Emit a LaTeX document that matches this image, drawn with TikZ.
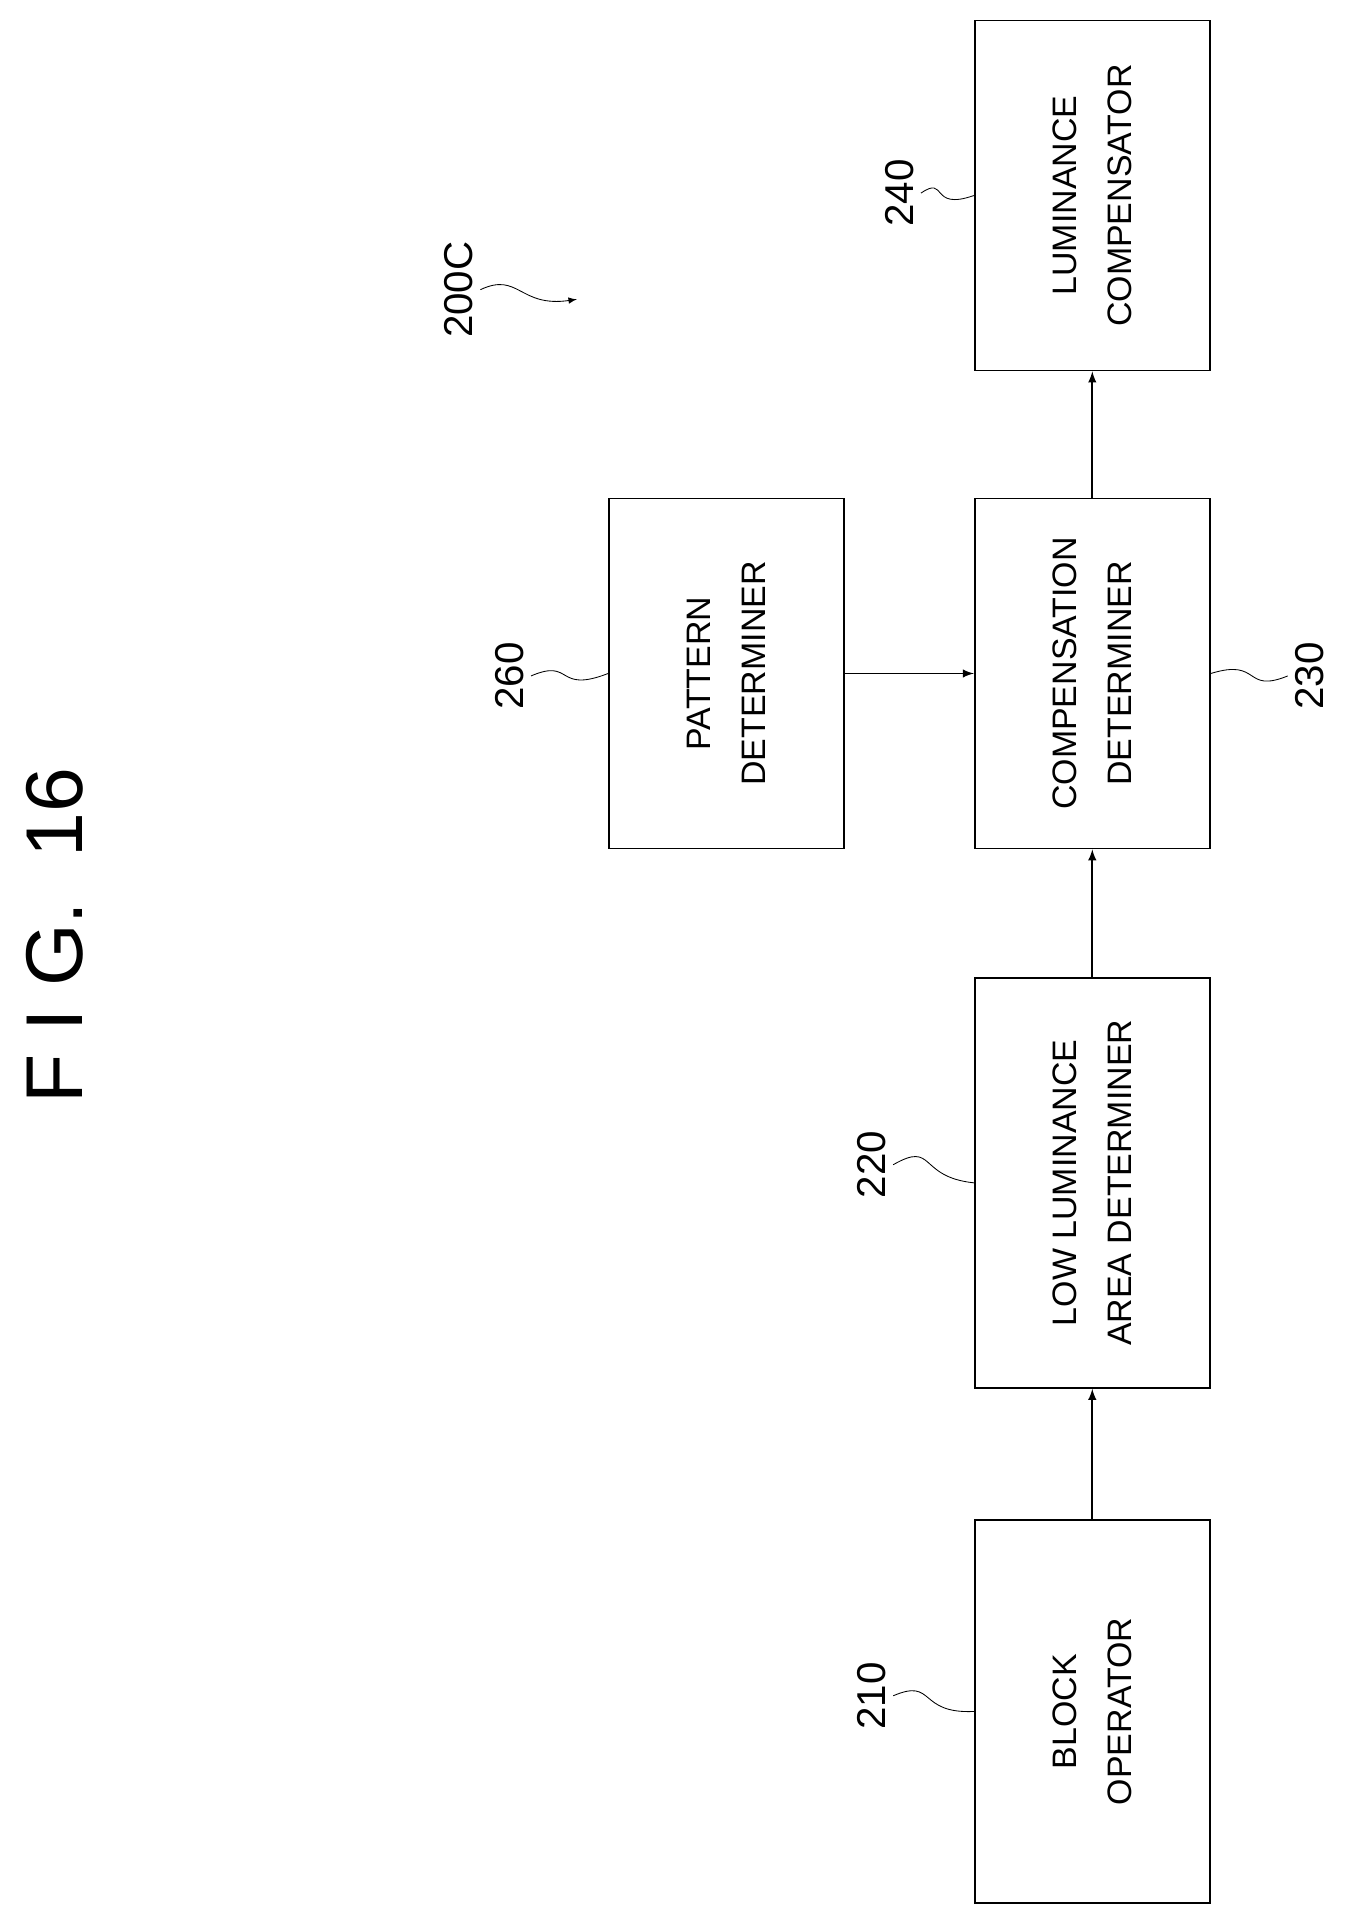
\documentclass[tikz,border=0pt]{standalone}
\usepackage{fontspec}
\setmainfont{Liberation Sans}
\usetikzlibrary{positioning}
\tikzstyle{block} = [draw, thick, rectangle, minimum width=5.8cm, minimum height=3.9cm, align=center, rotate=90, font=\fontsize{16}{26}\selectfont]
\tikzstyle{refnum} = [rotate=90, font=\fontsize{19}{22}\selectfont]
\tikzstyle{arrow} = [draw, thick, -latex]
\tikzstyle{lead} = [draw, thin]
\begin{document}
\begin{tikzpicture}[x=0.02cm, y=-0.02cm]
	\useasboundingbox (0,0) rectangle (1130,1580);
	\node [block] (comp) at (905,558) {COMPENSATION\\DETERMINER};
	\node [block] (lumcomp) at (905,162) {LUMINANCE\\COMPENSATOR};
	\node [block, minimum width=6.8cm] (lowlum) at (905,980) {LOW LUMINANCE\\AREA DETERMINER};
	\node [block, minimum width=6.35cm] (blockop) at (905,1418) {BLOCK\\OPERATOR};
	\node [block] (pattern) at (602,558) {PATTERN\\DETERMINER};

	\draw [arrow] (blockop.east) to (lowlum.west);
	\draw [arrow] (lowlum.east) to (comp.west);
	\draw [arrow] (comp.east) to (lumcomp.west);
	\draw [arrow] (pattern.south) to (comp.north);

	% reference numerals
	\node [refnum] (n240) at (745,160) {240};
	\node [refnum] (n230) at (1085,560) {230};
	\node [refnum] (n260) at (422,560) {260};
	\node [refnum] (n220) at (722,965) {220};
	\node [refnum] (n210) at (722,1405) {210};
	\node [refnum] (n200) at (380,240) {200C};
	\node [rotate=90, font=\fontsize{38}{40}\selectfont] (fig) at (45,775) {F I G.\ \ 16};

	\draw [lead] (n240.south) .. controls (785,145) and (770,175) .. (lumcomp.north);
	\draw [lead] (n230.north) .. controls (1030,575) and (1045,545) .. (comp.south);
	\draw [lead] (n260.south) .. controls (475,545) and (460,575) .. (pattern.north);
	\draw [lead] (n220.south) .. controls (775,945) and (760,975) .. (lowlum.north);
	\draw [lead] (n210.south) .. controls (775,1390) and (760,1420) .. (blockop.north);
	\coordinate (target) at (478,248);
	\draw [lead, -latex] (n200.south) .. controls (430,225) and (430,255) .. (target);
\end{tikzpicture}
\end{document}
